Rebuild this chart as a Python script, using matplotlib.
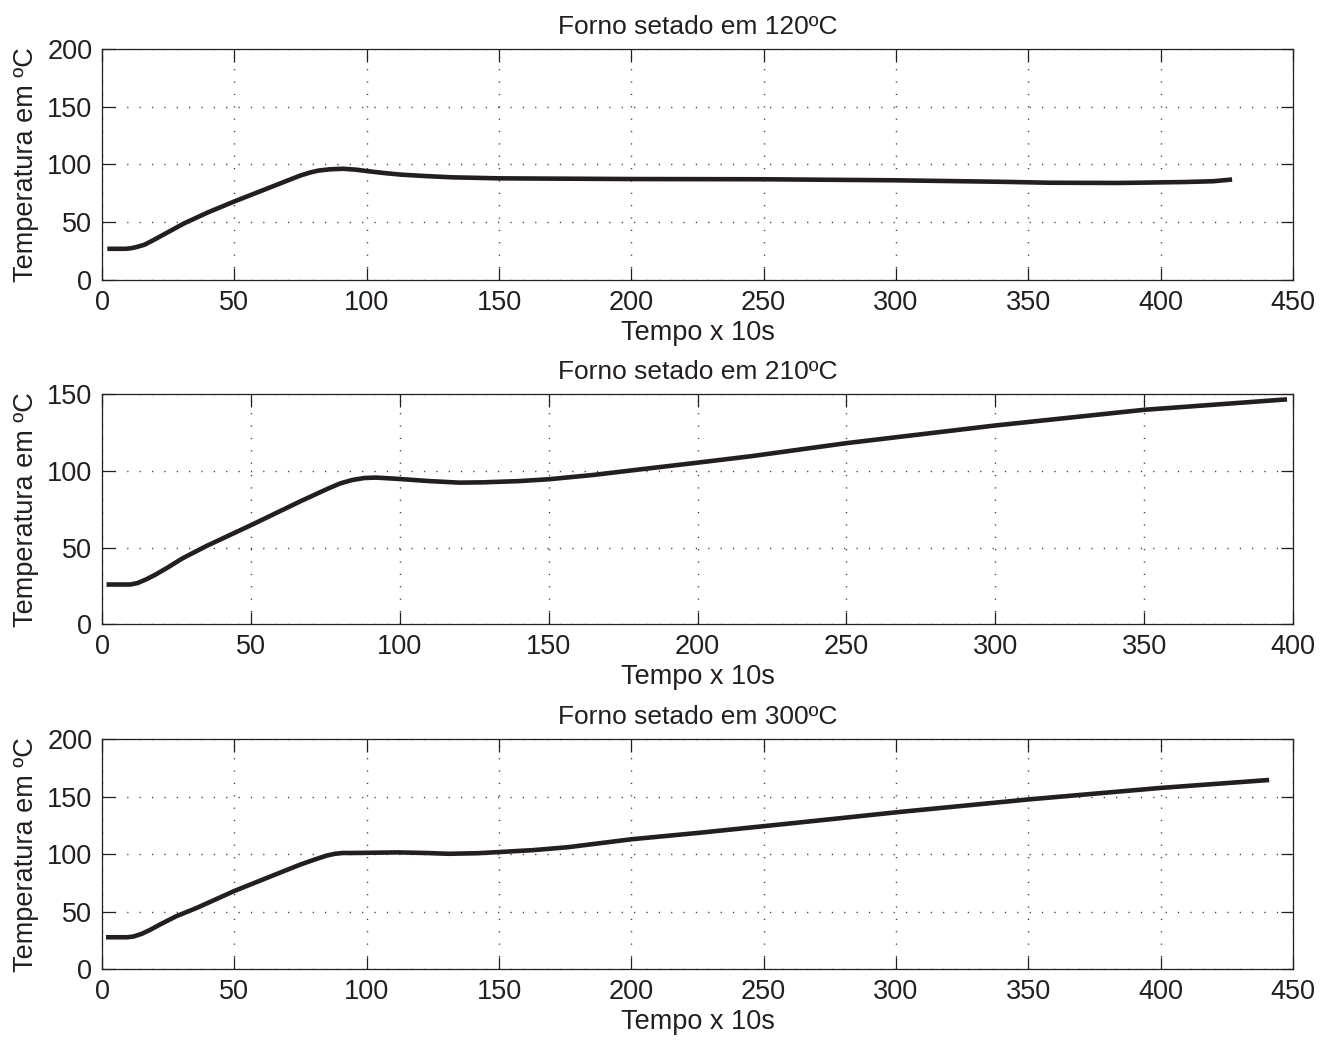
import numpy as np
import matplotlib.pyplot as plt

plt.rcParams['font.family'] = ['Liberation Sans', 'DejaVu Sans']

# oven set to 120C
x1 = [2, 9, 11, 13, 16, 19, 23, 31, 40, 50, 60, 70, 75, 79, 82, 86, 91, 96, 100, 107, 113, 122, 132,
      150, 200, 250, 300, 340, 358, 384, 409, 420, 427]
y1 = [27, 27, 27.5, 28.5, 30.5, 34, 39, 49, 58.5, 68, 77, 86, 90.5, 93.3, 94.8, 95.8, 96.3, 95.5, 94.3, 92.5, 91.2, 90, 88.9,
      88, 87.4, 87.2, 86.3, 85, 84.2, 84, 84.8, 85.5, 87]

# oven set to 210C
x2 = [1.5, 9.5, 12, 15, 18, 22, 27, 35, 50, 67, 76, 80, 84, 88, 92, 99, 110, 120, 128, 140, 150, 165, 178,
      200, 218, 250, 300, 350, 398]
y2 = [26, 26, 27, 29.5, 32.5, 37, 43, 51, 64.6, 80.5, 88.5, 91.8, 94, 95.3, 95.6, 94.8, 93.3, 92.3, 92.5, 93.3, 94.5, 97.3, 100.3,
      105.3, 109.5, 118, 129.5, 139.7, 146.5]

# oven set to 300C
x3 = [1.5, 9.5, 12, 15, 18, 22, 28, 36, 50, 63, 75, 81, 85, 88, 91, 95, 112, 122, 131, 142, 150, 163, 176,
      200, 226, 264, 300, 350, 400, 441]
y3 = [27.8, 27.8, 28.5, 30.8, 34, 39, 46, 53.5, 68, 80, 91, 95.8, 98.8, 100.3, 101, 101, 101.5, 101, 100.3, 100.8, 101.8, 103.5, 106,
      112.9, 118.6, 127.6, 136.3, 147.5, 157.5, 164.4]

titles = ['Forno setado em 120ºC', 'Forno setado em 210ºC', 'Forno setado em 300ºC']
xlims = [450, 400, 450]
ylims = [200, 150, 200]
series = [(x1, y1), (x2, y2), (x3, y3)]

fs = 19.5
ink = '#231f20'

fig = plt.figure(figsize=(13.32, 10.42), dpi=100)
boxes = [(0.0766, 0.7313, 0.8941, 0.2217),
         (0.0766, 0.4007, 0.8941, 0.2212),
         (0.0766, 0.0698, 0.8941, 0.2210)]

for i in range(3):
    ax = fig.add_axes(boxes[i])
    x, y = series[i]
    ax.plot(x, y, color=ink, lw=3.3, solid_capstyle='butt', solid_joinstyle='round', zorder=3)
    ax.set_xlim(0, xlims[i])
    ax.set_ylim(0, ylims[i])
    ax.set_xticks(np.arange(0, xlims[i] + 1, 50))
    ax.set_yticks(np.arange(0, ylims[i] + 1, 50))
    ax.grid(True, color='0.25', lw=1.0, linestyle=(0, (0.9, 8.0)))
    ax.tick_params(direction='in', length=9, width=0.9, color=ink, labelsize=fs,
                   labelcolor=ink, top=True, right=True, pad=7)
    for s in ax.spines.values():
        s.set_linewidth(0.9)
        s.set_color(ink)
    ax.set_title(titles[i], fontsize=19, color=ink, pad=11)
    ax.set_xlabel('Tempo x 10s', fontsize=fs, color=ink, labelpad=3)
    ax.set_ylabel('Temperatura em ºC', fontsize=fs, color=ink, labelpad=6)

fig.savefig('out.png', dpi=100)
